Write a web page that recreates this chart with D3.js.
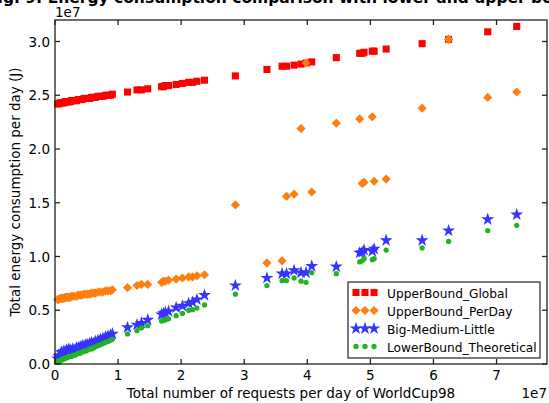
<!DOCTYPE html>
<html><head><meta charset="utf-8">
<script src="https://cdn.jsdelivr.net/npm/d3@7"></script>
<style>body{margin:0;background:#fff}svg{display:block}text{font-family:"DejaVu Sans",sans-serif}</style>
</head><body><svg id="c" width="549" height="403"></svg>
<script>
// x values (requests per day, units of 1e7)
const requests = [0.04,0.06,0.08,0.10,0.12,0.14,0.16,0.18,0.20,0.22,0.24,0.26,0.28,0.31,0.34,0.37,0.40,0.43,0.46,0.49,0.52,0.55,0.58,0.61,0.64,0.68,0.72,0.76,0.80,0.84,0.88,0.91,
 1.15,1.30,1.37,1.47,1.69,1.72,1.75,1.80,1.92,2.02,2.12,2.18,2.25,2.37,
 2.86,3.36,3.60,3.67,3.79,3.90,3.98,4.07,4.46,4.83,4.87,4.90,5.03,5.06,5.25,5.82,6.24,6.86,7.32];
// energy values (units of 1e7 J)
const upperGlobal = [2.42,2.42,2.43,2.43,2.43,2.43,2.44,2.44,2.44,2.44,2.44,2.45,2.45,2.45,2.45,2.46,2.46,2.46,2.47,2.47,2.47,2.47,2.48,2.48,2.48,2.49,2.49,2.49,2.50,2.50,2.50,2.51,
 2.53,2.55,2.55,2.56,2.58,2.58,2.59,2.59,2.60,2.61,2.62,2.62,2.63,2.64,
 2.68,2.74,2.77,2.77,2.78,2.79,2.80,2.81,2.85,2.89,2.89,2.90,2.91,2.91,2.93,2.98,3.02,3.09,3.14];
const upperPerDay = [0.60,0.60,0.61,0.61,0.61,0.61,0.62,0.62,0.62,0.62,0.62,0.63,0.63,0.63,0.63,0.64,0.64,0.64,0.65,0.65,0.65,0.65,0.66,0.66,0.66,0.67,0.67,0.67,0.68,0.68,0.68,0.69,
 0.71,0.73,0.74,0.74,0.76,0.77,0.77,0.78,0.79,0.80,0.81,0.81,0.82,0.83,
 1.48,0.94,0.96,1.56,1.58,2.19,2.80,1.60,2.24,2.28,1.68,1.69,2.30,1.70,1.72,2.38,3.02,2.48,2.53];
const bigMediumLittle = [0.05,0.07,0.08,0.11,0.10,0.12,0.11,0.13,0.12,0.14,0.13,0.12,0.14,0.13,0.15,0.15,0.16,0.17,0.17,0.18,0.18,0.19,0.20,0.19,0.21,0.22,0.23,0.24,0.25,0.26,0.27,0.28,
 0.34,0.365,0.38,0.41,0.46,0.47,0.48,0.49,0.525,0.54,0.565,0.575,0.60,0.64,
 0.73,0.80,0.84,0.84,0.87,0.85,0.85,0.91,0.905,1.035,1.04,1.06,1.05,1.07,1.15,1.15,1.24,1.345,1.39];
const lowerTheoretical = [0.02,0.03,0.03,0.04,0.04,0.05,0.05,0.06,0.06,0.07,0.07,0.07,0.08,0.08,0.09,0.10,0.10,0.11,0.12,0.12,0.13,0.14,0.14,0.15,0.16,0.17,0.18,0.19,0.20,0.21,0.22,0.23,
 0.28,0.31,0.335,0.355,0.40,0.405,0.41,0.42,0.45,0.47,0.50,0.505,0.52,0.55,
 0.65,0.73,0.775,0.775,0.80,0.77,0.76,0.85,0.84,0.95,0.96,0.98,0.97,0.98,1.06,1.08,1.14,1.24,1.29];
const seriesNames = ["UpperBound_Global","UpperBound_PerDay","Big-Medium-Little","LowerBound_Theoretical"];
const xTicks = [0,1,2,3,4,5,6,7];
const yTicks = [0.0,0.5,1.0,1.5,2.0,2.5,3.0];

const svg = d3.select("#c");
const L=55,R=547,T=20,B=364;
const x = d3.scaleLinear().domain([0,7.8]).range([L,R]);
const y = d3.scaleLinear().domain([0,3.2]).range([B,T]);

// caption (cut at top)
svg.append("text").attr("x",-13).attr("y",2.5).attr("font-family","Liberation Serif")
  .attr("font-weight","bold").attr("font-size",15.5).attr("fill","#000")
  .text("Fig. 9: Energy consumption comparison with lower and upper bounds");

const styles = [
  {data:upperGlobal, color:"#ff0000", sym:d3.symbolSquare, size:50, rot:0},
  {data:upperPerDay, color:"#ff7f0e", sym:d3.symbolSquare, size:42, rot:45},
  {data:bigMediumLittle, color:"#3535ff", sym:d3.symbolStar, size:52, rot:0},
  {data:lowerTheoretical, color:"#22b422", sym:d3.symbolCircle, size:22, rot:0}
];
const plot = svg.append("g");
styles.forEach(s=>{
  plot.selectAll(null).data(requests.map((r,i)=>[r,s.data[i]])).enter().append("path")
    .attr("d",d3.symbol(s.sym,s.size))
    .attr("transform",d=>`translate(${x(d[0])},${y(d[1])}) rotate(${s.rot})`)
    .attr("fill",s.color);
});

// frame
const ax = svg.append("g").attr("stroke","#222").attr("stroke-width",1.3).attr("fill","none");
ax.append("rect").attr("x",L).attr("y",T).attr("width",R-L).attr("height",B-T);
xTicks.forEach(t=>{
  ax.append("line").attr("x1",x(t)).attr("x2",x(t)).attr("y1",B).attr("y2",B-5);
  ax.append("line").attr("x1",x(t)).attr("x2",x(t)).attr("y1",T).attr("y2",T+5);
});
yTicks.forEach(t=>{
  ax.append("line").attr("x1",L).attr("x2",L+5).attr("y1",y(t)).attr("y2",y(t));
  ax.append("line").attr("x1",R).attr("x2",R-5).attr("y1",y(t)).attr("y2",y(t));
});
const fs=13.5;
svg.selectAll(null).data(xTicks).enter().append("text").attr("x",d=>x(d)).attr("y",B+16)
  .attr("text-anchor","middle").attr("font-size",fs).text(d=>d3.format("d")(d));
svg.selectAll(null).data(yTicks).enter().append("text").attr("x",L-5).attr("y",d=>y(d)+5)
  .attr("text-anchor","end").attr("font-size",fs).text(d=>d3.format(".1f")(d));
svg.append("text").attr("x",L).attr("y",17).attr("font-size",fs).text("1e7");
svg.append("text").attr("x",R).attr("y",398).attr("text-anchor","end").attr("font-size",fs).text("1e7");
svg.append("text").attr("x",(L+R)/2-10).attr("y",398).attr("text-anchor","middle").attr("font-size",fs)
  .text("Total number of requests per day of WorldCup98");
svg.append("text").attr("transform",`translate(20,${(T+B)/2}) rotate(-90)`).attr("text-anchor","middle")
  .attr("font-size",fs).text("Total energy consumption per day (J)");

// legend
const lg = svg.append("g");
lg.append("rect").attr("x",348).attr("y",282).attr("width",192).attr("height",76)
  .attr("fill","#fff").attr("stroke","#222").attr("stroke-width",1.2);
styles.forEach((s,i)=>{
  const cy = 292.5 + i*18;
  [356,365,374].forEach(cx=>{
    lg.append("path").attr("d",d3.symbol(s.sym,s.size)).attr("fill",s.color)
      .attr("transform",`translate(${cx},${cy}) rotate(${s.rot})`);
  });
  lg.append("text").attr("x",387).attr("y",cy+5).attr("font-size",12.2).text(seriesNames[i]);
});
</script></body></html>
